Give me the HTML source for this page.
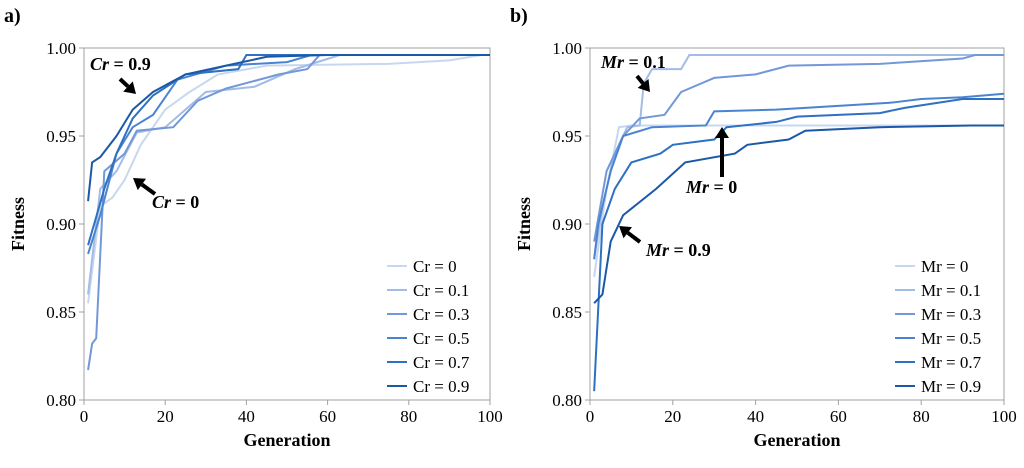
<!DOCTYPE html>
<html><head><meta charset="utf-8"><style>
body{margin:0;background:#fff}
svg text{font-family:"Liberation Serif",serif}
</style></head><body>
<svg id="c" width="1024" height="463" viewBox="0 0 1024 463" xmlns="http://www.w3.org/2000/svg"></svg>
<script>
const yTicks=[0.80,0.85,0.90,0.95,1.00];
const xTicks=[0,20,40,60,80,100];
const colors=["#c8d7f0","#a2bce8","#7398d8","#4a84d0","#2e70c2","#1b58a6"];
const leftLabels=["Cr = 0","Cr = 0.1","Cr = 0.3","Cr = 0.5","Cr = 0.7","Cr = 0.9"];
const rightLabels=["Mr = 0","Mr = 0.1","Mr = 0.3","Mr = 0.5","Mr = 0.7","Mr = 0.9"];
const cr0=[[1,0.855],[4,0.91],[7,0.915],[10,0.925],[14,0.945],[20,0.965],[26,0.975],[33,0.985],[45,0.99],[75,0.991],[90,0.993],[98,0.996],[100,0.996]];
const cr01=[[1,0.86],[4,0.92],[8,0.93],[13,0.952],[20,0.955],[30,0.975],[42,0.978],[52,0.988],[63,0.996],[100,0.996]];
const cr03=[[1,0.817],[2,0.832],[3,0.835],[5,0.93],[10,0.94],[13,0.953],[22,0.955],[28,0.97],[35,0.977],[48,0.985],[55,0.988],[58,0.996],[100,0.996]];
const cr05=[[1,0.883],[4,0.905],[8,0.94],[12,0.955],[17,0.962],[23,0.982],[35,0.99],[50,0.992],[56,0.996],[100,0.996]];
const cr07=[[1,0.888],[5,0.92],[8,0.94],[12,0.96],[17,0.973],[25,0.985],[38,0.988],[40,0.996],[100,0.996]];
const cr09=[[1,0.913],[2,0.935],[4,0.938],[8,0.95],[12,0.965],[17,0.975],[25,0.985],[35,0.99],[45,0.995],[60,0.996],[100,0.996]];
const mr0=[[1,0.87],[4,0.92],[7,0.955],[10,0.956],[100,0.956]];
const mr01=[[1,0.88],[3,0.91],[6,0.94],[9,0.955],[12,0.956],[13,0.98],[15,0.988],[22,0.988],[24,0.996],[100,0.996]];
const mr03=[[1,0.89],[4,0.93],[8,0.95],[12,0.96],[18,0.962],[22,0.975],[30,0.983],[40,0.985],[48,0.99],[70,0.991],[90,0.994],[93,0.996],[100,0.996]];
const mr05=[[1,0.88],[2,0.9],[5,0.93],[8,0.95],[15,0.955],[28,0.956],[30,0.964],[45,0.965],[73,0.969],[80,0.971],[90,0.972],[100,0.974]];
const mr07=[[1,0.805],[3,0.9],[6,0.92],[10,0.935],[17,0.94],[20,0.945],[30,0.948],[33,0.955],[45,0.958],[50,0.961],[70,0.963],[76,0.966],[90,0.971],[100,0.971]];
const mr09=[[1,0.855],[3,0.86],[5,0.89],[8,0.905],[16,0.92],[23,0.935],[35,0.94],[38,0.945],[48,0.948],[52,0.953],[70,0.955],[92,0.956],[100,0.956]];
const leftSeries=[cr0,cr01,cr03,cr05,cr07,cr09];
const rightSeries=[mr0,mr01,mr03,mr05,mr07,mr09];

const svg=document.getElementById('c');
const NS="http://www.w3.org/2000/svg";
function mk(tag,attrs,parent){const e=document.createElementNS(NS,tag);for(const k in attrs)e.setAttribute(k,attrs[k]);(parent||svg).appendChild(e);return e;}

function panel(px,pw,series,labels,letter,tag,legX){
  const top=48,bot=400;
  const xs=g=>px+g/100*pw;
  const ys=v=>top+(1-v)/0.2*(bot-top);
  const g=mk('g',{});
  
  
  const fr=mk('rect',{x:px,y:top,width:pw,height:bot-top,fill:'none',stroke:'#a0a0a0','stroke-width':1},g);
  
  
  yTicks.forEach(v=>{
    mk('line',{x1:px-5,x2:px,y1:ys(v),y2:ys(v),stroke:'#a0a0a0'},g);
    const t=mk('text',{x:px-8,y:ys(v)+6,'text-anchor':'end','font-size':17},g);
    t.textContent=v.toFixed(2);
    
    
  });
  xTicks.forEach(v=>{
    mk('line',{x1:xs(v),x2:xs(v),y1:bot,y2:bot+5,stroke:'#a0a0a0'},g);
    const t=mk('text',{x:xs(v),y:bot+22,'text-anchor':'middle','font-size':17},g);
    t.textContent=v;
    
    
  });
  const xt=mk('text',{x:px+pw/2,y:446,'text-anchor':'middle','font-size':18,'font-weight':'bold'},g);
  xt.textContent='Generation';
  
  
  const yt=mk('text',{x:0,y:0,'text-anchor':'middle','font-size':18,'font-weight':'bold',transform:`translate(${px-60},${(top+bot)/2}) rotate(-90)`},g);
  yt.textContent='Fitness';
  
  
  const lt=mk('text',{x:px-80,y:22,'font-size':20,'font-weight':'bold'},g);
  lt.textContent=letter;
  
  
  series.forEach((s,i)=>{
    const p=mk('polyline',{points:s.map(d=>xs(d[0])+','+ys(d[1])).join(' '),fill:'none',stroke:colors[i],'stroke-width':2},g);
    
    
  });
  labels.forEach((l,i)=>{
    const y=266+i*24;
    const ln=mk('line',{x1:legX,x2:legX+20,y1:y,y2:y,stroke:colors[i],'stroke-width':2},g);
    
    
    const t=mk('text',{x:legX+26,y:y+6,'font-size':17},g);
    t.textContent=l;
    
    
  });
  return {xs,ys,g};
}
function arrow(x1,y1,x2,y2,g){
  const a=Math.atan2(y2-y1,x2-x1),L=11,W=7;
  const bx=x2-L*Math.cos(a),by=y2-L*Math.sin(a);
  const ln=mk('line',{x1,y1,x2:bx,y2:by,stroke:'#000','stroke-width':4},g);
  
  
  mk('polygon',{points:`${x2},${y2} ${bx-W*Math.sin(a)},${by+W*Math.cos(a)} ${bx+W*Math.sin(a)},${by-W*Math.cos(a)}`,fill:'#000'},g);
}
function note(x,y,sym,val,g){
  const t=mk('text',{x,y,'font-size':18,'font-weight':'bold'},g);
  const s1=mk('tspan',{'font-style':'italic'},t);s1.textContent=sym;
  const s2=mk('tspan',{},t);s2.textContent=' = '+val;
  
  
}
const L=panel(84,406,leftSeries,leftLabels,'a)','left',387);
note(90,70,'Cr','0.9',L.g);arrow(120,79,136,94,L.g);
note(152,208,'Cr','0',L.g);arrow(155,194,133,178,L.g);
const R=panel(590,414,rightSeries,rightLabels,'b)','right',895);
note(601,68,'Mr','0.1',R.g);arrow(637,76,650,92,R.g);
note(686,193,'Mr','0',R.g);arrow(722,177,722,127,R.g);
note(646,256,'Mr','0.9',R.g);arrow(640,242,619,226,R.g);
</script>
</body></html>
